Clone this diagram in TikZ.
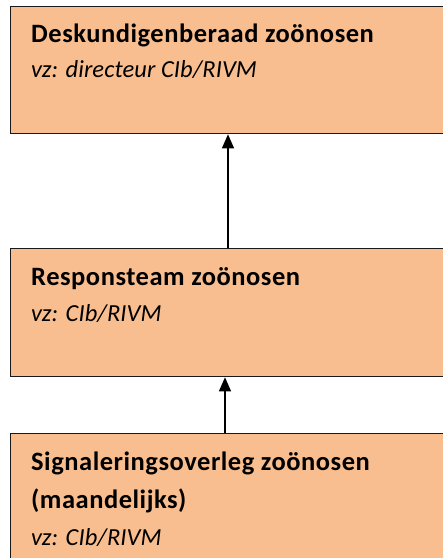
\documentclass[tikz,border=0pt]{standalone}
\usepackage{fontspec}
\setmainfont{Carlito}
\usetikzlibrary{arrows.meta}
\definecolor{boxfill}{HTML}{F9BE8F}
\begin{document}
\begin{tikzpicture}[x=1pt,y=-1pt,
  box/.style={draw=black!90, line width=1.3pt, fill=boxfill, rectangle, anchor=north west, inner sep=0pt, minimum width=450pt},
  title/.style={anchor=base west, font=\bfseries\fontsize{26.5}{30}\selectfont\addfontfeatures{LetterSpace=2}, inner sep=0pt},
  sub/.style={anchor=base west, font=\itshape\fontsize{24.5}{28}\selectfont\addfontfeatures{LetterSpace=0.3}, inner sep=0pt},
  link/.style={draw=black, line width=1.2pt, -{Triangle[length=14pt,width=12pt]}}]
\useasboundingbox (0,0) rectangle (443,558);
\clip (0,0) rectangle (443,558);
\node[box, minimum height=127pt] (b1) at (10,6) {};
\node[box, minimum height=128pt] (b2) at (10,248) {};
\node[box, minimum height=160pt] (b3) at (10,433) {};
\node[title] (t1) at (31,42.7) {Deskundigenberaad zoönosen};
\node[sub] (s1) at (31,77) {vz: directeur CIb/RIVM};
\node[title] (t2) at (31,285) {Responsteam zoönosen};
\node[sub] (s2) at (31,321) {vz: CIb/RIVM};
\node[title] (t3) at (31,470) {Signaleringsoverleg zoönosen};
\node[title] (t3b) at (31,508) {(maandelijks)};
\node[sub] (s3) at (31,545) {vz: CIb/RIVM};
\draw[link] ([xshift=218pt]b2.north west) -- ([xshift=218pt]b1.south west);
\draw[link] ([xshift=215pt]b3.north west) -- ([xshift=215pt]b2.south west);
\end{tikzpicture}
\end{document}
